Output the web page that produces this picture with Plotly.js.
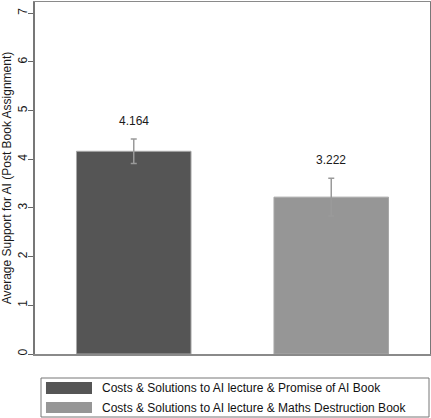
<!DOCTYPE html>
<html>
<head>
<meta charset="utf-8">
<script src="https://cdn.plot.ly/plotly-3.0.1.min.js"></script>
<style>
  html, body { margin: 0; padding: 0; background: #ffffff; }
  #chart { width: 431px; height: 418px; }
</style>
</head>
<body>
<div id="chart"></div>
<script>
// Group names, mean support and error half-widths
const groups = [
  "Costs & Solutions to AI lecture & Promise of AI Book",
  "Costs & Solutions to AI lecture & Maths Destruction Book"
];
const means = [4.164, 3.222];
const errors = [0.25, 0.39];
const barColors = ["#555555", "#969696"];
const yTicks = [0, 1, 2, 3, 4, 5, 6, 7];

const FONT = "Liberation Sans, Arial, sans-serif";
const xIdx = groups.map((_, i) => i);

const traces = groups.map((g, i) => ({
  type: "bar",
  x: [i],
  y: [means[i]],
  width: 0.58,
  name: g,
  showlegend: false,
  marker: { color: barColors[i], line: { color: "#a8a8a8", width: 1 } },
  error_y: {
    type: "data",
    array: [errors[i]],
    visible: true,
    color: "#9a9a9a",
    thickness: 1.5,
    width: 3
  },
  hoverinfo: "skip"
}));

// Value labels above each error bar
const annotations = groups.map((g, i) => ({
  x: i,
  y: means[i] + errors[i],
  xref: "x",
  yref: "y",
  text: means[i].toFixed(3),
  showarrow: false,
  yanchor: "bottom",
  yshift: 9,
  font: { family: FONT, size: 12, color: "#1a1a1a" }
}));

// Legend box below the plot: swatches + labels
const legendRows = [
  { y0: -0.0795, y1: -0.1136, ym: -0.0966 },
  { y0: -0.1364, y1: -0.1676, ym: -0.1520 }
];
const shapes = [{
  type: "rect", xref: "paper", yref: "paper",
  x0: 0.0152, x1: 0.9975, y0: -0.0682, y1: -0.179,
  line: { color: "#777777", width: 1 }, fillcolor: "rgba(0,0,0,0)"
}];
groups.forEach((g, i) => {
  shapes.push({
    type: "rect", xref: "paper", yref: "paper",
    x0: 0.0278, x1: 0.1443, y0: legendRows[i].y0, y1: legendRows[i].y1,
    line: { width: 0 }, fillcolor: barColors[i]
  });
  annotations.push({
    xref: "paper", yref: "paper",
    x: 0.1646, y: legendRows[i].ym,
    xanchor: "left", yanchor: "middle",
    text: g, showarrow: false,
    font: { family: FONT, size: 12, color: "#111111" }
  });
});

const layout = {
  width: 431,
  height: 418,
  margin: { l: 35, r: 1, t: 2, b: 64, pad: 0 },
  paper_bgcolor: "#ffffff",
  plot_bgcolor: "#ffffff",
  font: { family: FONT, color: "#222222" },
  bargap: 0.42,
  xaxis: {
    range: [-0.5, 1.5],
    tickvals: xIdx,
    showticklabels: false,
    ticks: "",
    showgrid: false,
    zeroline: false,
    showline: true,
    mirror: true,
    linecolor: "#8a8a8a",
    linewidth: 1.5,
    fixedrange: true
  },
  yaxis: {
    range: [0, 7.23],
    tickvals: yTicks,
    ticktext: yTicks.map(String),
    ticks: "outside",
    ticklen: 5,
    tickwidth: 1,
    tickcolor: "#666666",
    tickangle: -90,
    ticklabelstandoff: -4,
    tickfont: { family: FONT, size: 12, color: "#1a1a1a" },
    showgrid: false,
    zeroline: false,
    showline: true,
    mirror: true,
    linecolor: "#777777",
    linewidth: 2,
    automargin: false,
    title: {
      text: "Average Support for AI (Post Book Assignment)",
      font: { family: FONT, size: 12, color: "#1a1a1a" },
      standoff: 10
    },
    fixedrange: true
  },
  annotations: annotations,
  shapes: shapes,
  showlegend: false
};

Plotly.newPlot("chart", traces, layout, { displayModeBar: false, staticPlot: true });
</script>
</body>
</html>
